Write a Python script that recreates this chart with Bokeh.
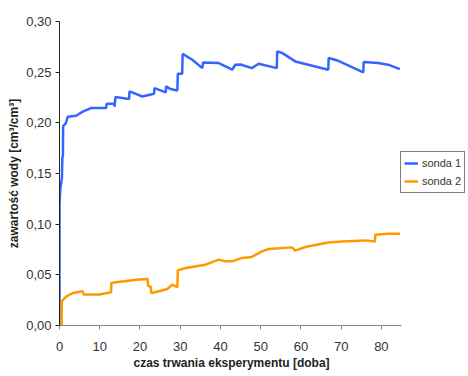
from bokeh.plotting import figure
from bokeh.models import Range1d, Legend, LegendItem, FixedTicker, CustomJSTickFormatter, Title
from bokeh.embed import file_html
from bokeh.resources import INLINE

# sonda 1 (days, water content)
x1 = [0, 0.02, 0.2, 0.4, 0.6, 0.7, 0.85, 0.9, 1.5, 2.05, 4.1, 5.8, 7.8, 11.6, 11.7, 13.6, 13.7, 13.9,
      17.3, 17.4, 20.6, 23.5, 23.6, 26.4, 26.5, 27.6, 29.3, 29.4, 30.5, 30.6, 33, 35.5, 35.7, 39.6,
      42.9, 43.7, 45, 47.8, 49.5, 54.0, 54.1, 55.3, 58.6, 66.8, 66.9, 69.3, 75.5, 75.6, 79.2, 82, 84.6]
y1 = [0, 0.12, 0.135, 0.14, 0.145, 0.165, 0.168, 0.197, 0.199, 0.206, 0.207, 0.211, 0.2146, 0.2146,
      0.2188, 0.2188, 0.216, 0.2254, 0.2235, 0.231, 0.226, 0.2287, 0.2343, 0.23, 0.236, 0.2333, 0.232,
      0.2484, 0.2484, 0.268, 0.2622, 0.254, 0.2596, 0.259, 0.2524, 0.2573, 0.2575, 0.254, 0.2583, 0.254,
      0.2704, 0.269, 0.2606, 0.2524, 0.264, 0.2612, 0.2497, 0.26, 0.259, 0.257, 0.253]

# sonda 2
x2 = [0, 0.5, 0.55, 0.6, 1.7, 3.3, 5.8, 6.0, 9.9, 12.8, 12.9, 14, 19.8, 21.9, 22.0, 22.7, 22.8, 23.5,
      26.8, 28, 29.3, 29.4, 31.4, 34.7, 36.3, 39.6, 41.3, 42.9, 45.4, 47.8, 50.3, 52, 57.8, 58.6, 61.1,
      66.8, 70.1, 75.9, 78.4, 78.5, 81.7, 84.6]
y2 = [0, 0, 0.015, 0.024, 0.0288, 0.032, 0.0337, 0.0305, 0.0305, 0.0328, 0.042, 0.0426, 0.0453, 0.046,
      0.0393, 0.038, 0.0322, 0.0325, 0.036, 0.0403, 0.038, 0.0544, 0.0568, 0.059, 0.060, 0.065, 0.0633,
      0.0633, 0.0667, 0.0677, 0.0732, 0.0755, 0.0771, 0.0739, 0.0775, 0.082, 0.083, 0.084, 0.083, 0.0896,
      0.0906, 0.0906]

x_ticks = [0, 10, 20, 30, 40, 50, 60, 70, 80]
y_ticks = [0.0, 0.05, 0.10, 0.15, 0.20, 0.25, 0.30]
x_axis_end = 85
series_names = ["sonda 1", "sonda 2"]
x_label = "czas trwania eksperymentu [doba]"
y_label = "zawartość wody [cm³/cm³]"

FONT = "'Liberation Sans Narrow', 'Liberation Sans', Arial, sans-serif"

# axis spans 342 px for 0..85; the frame is wider so the legend can sit right of the axis end
AXIS_PX = 342
FRAME_W = 408
x_view_end = x_axis_end * FRAME_W / AXIS_PX

p = figure(frame_width=FRAME_W, frame_height=304, output_backend="svg", toolbar_location=None,
           x_range=Range1d(0, x_view_end), y_range=Range1d(0, 0.30),
           min_border_left=59, min_border_right=0, min_border_top=21, min_border_bottom=0)
p.outline_line_color = None
p.xgrid.visible = False
p.ygrid.visible = False
p.background_fill_color = "white"
p.border_fill_color = "white"

r1 = p.line(x1, y1, line_color="#3366FF", line_width=2.5)
r2 = p.line(x2, y2, line_color="#FF9900", line_width=2.5)

p.xaxis.ticker = FixedTicker(ticks=x_ticks)
p.yaxis.ticker = FixedTicker(ticks=y_ticks)
p.xaxis.bounds = (0, x_axis_end)
p.yaxis.formatter = CustomJSTickFormatter(code="return tick.toFixed(2).replace('.', ',');")

for ax in (p.xaxis[0], p.yaxis[0]):
    ax.minor_tick_line_color = None
    ax.major_tick_in = 0
    ax.major_tick_out = 4
    ax.major_label_text_font = FONT
    ax.major_label_text_font_size = "13px"
    ax.major_label_text_color = "#333333"
    ax.axis_label_text_font = "Liberation Sans"
    ax.axis_label_text_font_style = "bold"
    ax.axis_label_text_font_size = "12px"
    ax.axis_label_text_color = "#222222"

p.xaxis.axis_line_color = "#888888"
p.xaxis.major_tick_line_color = "#888888"
p.yaxis.axis_line_color = "#222222"
p.yaxis.major_tick_line_color = "#222222"
p.xaxis.major_label_standoff = 12
p.yaxis.major_label_standoff = 4
p.yaxis.axis_label = y_label
p.yaxis.axis_label_standoff = 2

# x-axis title centred under the 0..85 axis span
xt = Title(text=x_label, align="left", offset=74, standoff=1,
           text_font="Liberation Sans", text_font_style="bold", text_font_size="12px",
           text_color="#222222")
p.add_layout(xt, "below")

legend = Legend(items=[LegendItem(label=series_names[0], renderers=[r1]),
                       LegendItem(label=series_names[1], renderers=[r2])],
                location=(341, 132))
legend.border_line_color = "black"
legend.border_line_width = 1
legend.background_fill_color = "white"
legend.label_text_font = FONT
legend.label_text_font_size = "11px"
legend.label_text_color = "#333333"
legend.glyph_width = 14
legend.glyph_height = 16
legend.label_height = 16
legend.spacing = 2
legend.padding = 3
legend.margin = 0
legend.label_standoff = 4
p.add_layout(legend, "center")

open("out.html", "w").write(file_html(p, INLINE))
